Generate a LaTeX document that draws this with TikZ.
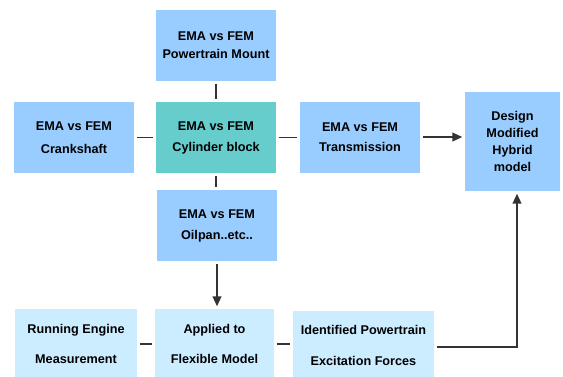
\documentclass[tikz,border=0pt]{standalone}
\usepackage{fontspec}
\setmainfont{Liberation Sans}
\usetikzlibrary{arrows.meta}
\definecolor{boxblue}{HTML}{99CCFF}
\definecolor{boxteal}{HTML}{66CCCC}
\definecolor{boxpale}{HTML}{CCECFF}
\definecolor{linegray}{HTML}{333333}
\tikzset{
  box/.style={fill=boxblue, draw=none, align=center, inner sep=0pt,
    minimum width=120*0.75pt, minimum height=71*0.75pt,
    font=\fontsize{9.5}{13.5}\selectfont\bfseries},
  conn/.style={draw=linegray, line width=1.4pt, shorten <=1.8pt, shorten >=1.8pt},
  arr/.style={conn, -{Triangle[length=7.5pt,width=6.5pt]}}
}
\begin{document}
\begin{tikzpicture}[x=0.75pt,y=-0.75pt]
\useasboundingbox (0,0) rectangle (563,376);
\clip (0,0) rectangle (563,376);
\fill[white] (0,0) rectangle (563,376);
\node[box] (pm) at (216,45.5) {EMA vs FEM\\Powertrain Mount};
\node[box] (crank) at (74,137.5) {EMA vs FEM\\[3.75pt]Crankshaft};
\node[box, fill=boxteal] (cyl) at (216,137.5) {EMA vs FEM\\[2.25pt]Cylinder block};
\node[box] (trans) at (360,137) {EMA vs FEM\\[1.5pt]Transmission};
\node[box, minimum width=95*0.75pt, minimum height=99*0.75pt,
  font=\fontsize{9.5}{12.75}\selectfont\bfseries] (design) at (512.5,141.5) {Design\\Modified\\Hybrid\\model};
\node[box] (oil) at (217,225.5) {EMA vs FEM\\[2.25pt]Oilpan..etc..};
\node[box, fill=boxpale, minimum width=122*0.75pt, minimum height=70*0.75pt] (run) at (76,344) {Running Engine\\[9pt]Measurement};
\node[box, fill=boxpale, minimum width=119*0.75pt, minimum height=70*0.75pt] (app) at (214.5,344) {Applied to\\[9pt]Flexible Model};
\node[box, fill=boxpale, minimum width=141*0.75pt, minimum height=68*0.75pt] (ident) at (363.5,345) {Identified Powertrain\\[9.75pt]Excitation Forces};
\coordinate (dsouth) at ([xshift=4.5*0.75pt]design.south);
\draw[conn] (pm) -- (cyl);
\draw[conn] (crank) -- (cyl);
\draw[conn] (cyl.east) -- (cyl.east -| trans.west);
\draw[conn] (cyl) -- (cyl |- oil.north);
\draw[arr] (trans.east) -- (trans.east -| design.west);
\draw[arr] (oil.south) -- (oil.south |- app.north);
\draw[conn] (run) -- (app);
\draw[conn] (app.east) -- (app.east -| ident.west);
\draw[arr] ([yshift=-1.5pt]ident.east) -| (dsouth);
\end{tikzpicture}
\end{document}
